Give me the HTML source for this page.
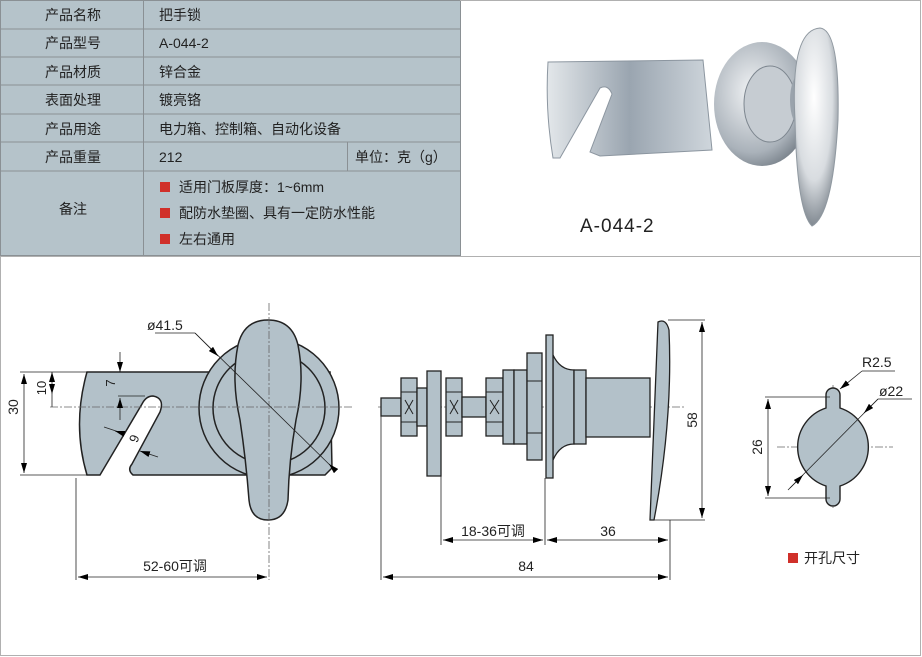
<!DOCTYPE html>
<html><head><meta charset="utf-8"><style>
body{margin:0;width:922px;height:657px;background:#fff;overflow:hidden;font-family:"Liberation Sans","Noto Sans CJK SC",sans-serif;}
svg{position:absolute;left:0;top:0}
</style></head><body>
<svg width="922" height="657" viewBox="0 0 922 657" xmlns="http://www.w3.org/2000/svg" font-family="'Liberation Sans','Noto Sans CJK SC',sans-serif">
<defs>
<linearGradient id="pl" x1="0" x2="1"><stop offset="0" stop-color="#e3e7ea"/><stop offset=".5" stop-color="#9aa5b0"/><stop offset="1" stop-color="#cfd6dc"/></linearGradient>
<radialGradient id="kn" cx=".45" cy=".35" r=".7"><stop offset="0" stop-color="#fff"/><stop offset=".6" stop-color="#d8dce0"/><stop offset="1" stop-color="#6e7780"/></radialGradient>
<radialGradient id="ds" cx=".4" cy=".4" r=".7"><stop offset="0" stop-color="#f2f4f6"/><stop offset=".7" stop-color="#aab2ba"/><stop offset="1" stop-color="#6a737c"/></radialGradient>
<marker id="a" viewBox="0 0 10 6" refX="10" refY="3" markerWidth="10" markerHeight="6" orient="auto-start-reverse" markerUnits="userSpaceOnUse"><path d="M0,0L10,3L0,6z" fill="#000"/></marker>
</defs>
<!-- table -->
<rect x="0" y="0" width="460" height="255" fill="#b5c3ca"/>
<g stroke="#8a9094" stroke-width="1" fill="none">
<rect x="0.5" y="0.5" width="460" height="255"/>
<line x1="0" y1="29" x2="460" y2="29"/><line x1="0" y1="57" x2="460" y2="57"/><line x1="0" y1="85" x2="460" y2="85"/><line x1="0" y1="114" x2="460" y2="114"/><line x1="0" y1="142" x2="460" y2="142"/><line x1="0" y1="171" x2="460" y2="171"/>
<line x1="143.5" y1="0" x2="143.5" y2="255"/><line x1="347.5" y1="142" x2="347.5" y2="171"/>
</g>
<g font-size="14" fill="#222">
<g text-anchor="middle"><text x="73" y="20">产品名称</text><text x="73" y="48">产品型号</text><text x="73" y="77">产品材质</text><text x="73" y="105">表面处理</text><text x="73" y="134">产品用途</text><text x="73" y="162">产品重量</text><text x="73" y="214">备注</text></g>
<text x="159" y="20">把手锁</text><text x="159" y="48">A-044-2</text><text x="159" y="77">锌合金</text><text x="159" y="105">镀亮铬</text><text x="159" y="134">电力箱、控制箱、自动化设备</text><text x="159" y="162">212</text><text x="355" y="162">单位：克（g）</text>
<rect x="160" y="182" width="10" height="10" fill="#d0302a"/><text x="179" y="192">适用门板厚度：1~6mm</text>
<rect x="160" y="208" width="10" height="10" fill="#d0302a"/><text x="179" y="218">配防水垫圈、具有一定防水性能</text>
<rect x="160" y="234" width="10" height="10" fill="#d0302a"/><text x="179" y="244">左右通用</text>
</g>
<g stroke="#b0b0b0" fill="none"><line x1="460" y1="0.5" x2="921" y2="0.5"/><line x1="920.5" y1="0" x2="920.5" y2="256"/><rect x="0.5" y="256.5" width="920" height="399"/></g>
<!-- photo -->
<path d="M548,62 L703,60 L712,150 L600,156 L590,152 L612,94 Q608,84 600,88 L560,158 L553,158 Q545,110 548,62Z" fill="url(#pl)" stroke="#8c96a0"/>
<ellipse cx="762" cy="104" rx="48" ry="62" fill="url(#ds)"/>
<ellipse cx="770" cy="104" rx="26" ry="38" fill="#c6ccd2" stroke="#7d868f"/>
<ellipse cx="800" cy="100" rx="10" ry="26" fill="#9aa3ac"/>
<path d="M795,120 Q790,30 820,28 Q840,30 838,120 Q833,215 812,226 Q797,212 795,120Z" fill="url(#kn)" stroke="#8f98a0"/>
<text x="580" y="232" font-size="19" fill="#222" letter-spacing="1">A-044-2</text>
<!-- LEFT VIEW -->
<g stroke="#222" stroke-width="1.5" fill="#b3c1c9">
<path d="M87,372 L330,372 L332,468 L325,475 L133,475 Q127,470 132,464 L160,412 Q165,398 153,396 Q146,396 142,404 L100,475 L87,475 Q72,425 87,372Z"/>
<circle cx="269" cy="408" r="70"/>
<circle cx="269" cy="408" r="56"/>
<path d="M268,320 Q292,320 298,345 Q305,380 296,420 Q289,460 288,500 Q285,520 268,520 Q251,520 249,500 Q246,460 240,420 Q231,380 238,345 Q244,320 268,320Z"/>
</g>
<g stroke="#666" stroke-width="0.8" stroke-dasharray="8,2,2,2" fill="none">
<line x1="50" y1="407" x2="352" y2="407"/><line x1="269" y1="303" x2="269" y2="580"/>
<line x1="378" y1="407" x2="685" y2="407"/>
<line x1="777" y1="447" x2="893" y2="447"/><line x1="833" y1="385" x2="833" y2="508"/>
</g>
<g stroke="#222" stroke-width="0.8" fill="none">
<line x1="20" y1="372" x2="87" y2="372"/><line x1="20" y1="475" x2="87" y2="475"/>
<line x1="24" y1="374" x2="24" y2="473" marker-start="url(#a)" marker-end="url(#a)"/>
<line x1="52" y1="372" x2="52" y2="394" marker-end="url(#a)" marker-start="url(#a)"/>
<line x1="52" y1="407" x2="52" y2="394"/>
<line x1="120" y1="352" x2="120" y2="372" marker-end="url(#a)"/><line x1="120" y1="420" x2="120" y2="398" marker-end="url(#a)"/><line x1="118" y1="396" x2="145" y2="396"/>
<line x1="104" y1="427" x2="125" y2="434" /><line x1="125" y1="434" x2="115" y2="431" marker-end="url(#a)"/><line x1="158" y1="457" x2="140" y2="451" marker-end="url(#a)"/>
<line x1="155" y1="333" x2="195" y2="333"/><line x1="195" y1="333" x2="335" y2="470"/><line x1="195" y1="333" x2="218" y2="356" marker-end="url(#a)"/><line x1="335" y1="470" x2="329" y2="464" marker-end="url(#a)"/>
<line x1="76" y1="478" x2="76" y2="580"/>
<line x1="78" y1="577" x2="267" y2="577" marker-start="url(#a)" marker-end="url(#a)"/>
</g>
<g font-size="14" fill="#222">
<text transform="translate(18,407) rotate(-90)" text-anchor="middle">30</text>
<text transform="translate(46,388) rotate(-90)" text-anchor="middle" font-size="13">10</text>
<text transform="translate(115,383) rotate(-90)" text-anchor="middle" font-size="13">7</text>
<text transform="translate(130,437) rotate(110)" text-anchor="middle" font-size="13">6</text>
<text x="147" y="330">ø41.5</text>
<text x="175" y="571" text-anchor="middle">52-60可调</text>
</g>
<!-- MIDDLE VIEW -->
<g stroke="#222" stroke-width="1.3" fill="#b3c1c9">
<rect x="381" y="398" width="20" height="18"/>
<rect x="401" y="378" width="16" height="58"/>
<rect x="417" y="388" width="10" height="38"/>
<rect x="427" y="371" width="14" height="105"/>
<rect x="446" y="378" width="16" height="58"/>
<rect x="462" y="397" width="24" height="20"/>
<rect x="486" y="378" width="17" height="58"/>
<rect x="503" y="370" width="11" height="74"/><rect x="514" y="370" width="13" height="74"/>
<rect x="527" y="353" width="15" height="107"/>
<path d="M553,355 Q560,370 574,370 L574,444 Q560,444 553,460Z"/>
<rect x="546" y="335" width="7" height="143"/>
<rect x="574" y="370" width="12" height="74"/>
<rect x="586" y="378" width="64" height="59"/>
<path d="M650,520 L658,322 Q666,318 669,330 Q673,420 654,520Z"/>
</g>
<g stroke="#222" stroke-width="1" fill="none">
<path d="M401,392 L417,392 M401,422 L417,422 M405,400 L413,414 M413,400 L405,414"/>
<path d="M446,392 L462,392 M446,422 L462,422 M450,400 L458,414 M458,400 L450,414"/>
<path d="M486,392 L503,392 M486,422 L503,422 M490,400 L499,414 M499,400 L490,414"/>
<path d="M527,381 L542,381 M527,433 L542,433"/>
</g>
<g stroke="#222" stroke-width="0.8" fill="none">
<line x1="668" y1="320" x2="705" y2="320"/><line x1="654" y1="520" x2="705" y2="520"/>
<line x1="702" y1="322" x2="702" y2="518" marker-start="url(#a)" marker-end="url(#a)"/>
<line x1="381" y1="416" x2="381" y2="580"/><line x1="441" y1="476" x2="441" y2="545"/><line x1="545" y1="478" x2="545" y2="545"/><line x1="670" y1="520" x2="670" y2="580"/>
<line x1="443" y1="540" x2="543" y2="540" marker-start="url(#a)" marker-end="url(#a)"/>
<line x1="547" y1="540" x2="668" y2="540" marker-start="url(#a)" marker-end="url(#a)"/>
<line x1="383" y1="577" x2="668" y2="577" marker-start="url(#a)" marker-end="url(#a)"/>
</g>
<g font-size="14" fill="#222">
<text transform="translate(697,420) rotate(-90)" text-anchor="middle">58</text>
<text x="493" y="536" text-anchor="middle">18-36可调</text>
<text x="608" y="536" text-anchor="middle">36</text>
<text x="526" y="571" text-anchor="middle">84</text>
</g>
<!-- RIGHT VIEW -->
<path d="M826,408 L826,395 A7,7 0 0 1 840,395 L840,408 A41,41 0 0 1 840,486 L840,499 A7,7 0 0 1 826,499 L826,486 A41,41 0 0 1 826,408Z" fill="#b3c1c9" stroke="#222" stroke-width="1.4"/>
<g stroke="#222" stroke-width="0.8" fill="none">
<line x1="765" y1="397" x2="830" y2="397"/><line x1="765" y1="498" x2="830" y2="498"/>
<line x1="768" y1="399" x2="768" y2="496" marker-start="url(#a)" marker-end="url(#a)"/>
<line x1="862" y1="371" x2="895" y2="371"/><line x1="862" y1="371" x2="840" y2="389" marker-end="url(#a)"/>
<line x1="878" y1="399" x2="912" y2="399"/><line x1="878" y1="399" x2="788" y2="490"/><line x1="878" y1="399" x2="864" y2="413" marker-end="url(#a)"/><line x1="790" y1="488" x2="803" y2="475" marker-end="url(#a)"/>
</g>
<g font-size="14" fill="#222">
<text transform="translate(762,447) rotate(-90)" text-anchor="middle">26</text>
<text x="862" y="367">R2.5</text>
<text x="879" y="396">ø22</text>
<rect x="788" y="553" width="10" height="10" fill="#d0302a"/>
<text x="804" y="563">开孔尺寸</text>
</g>
</svg>
</body></html>
